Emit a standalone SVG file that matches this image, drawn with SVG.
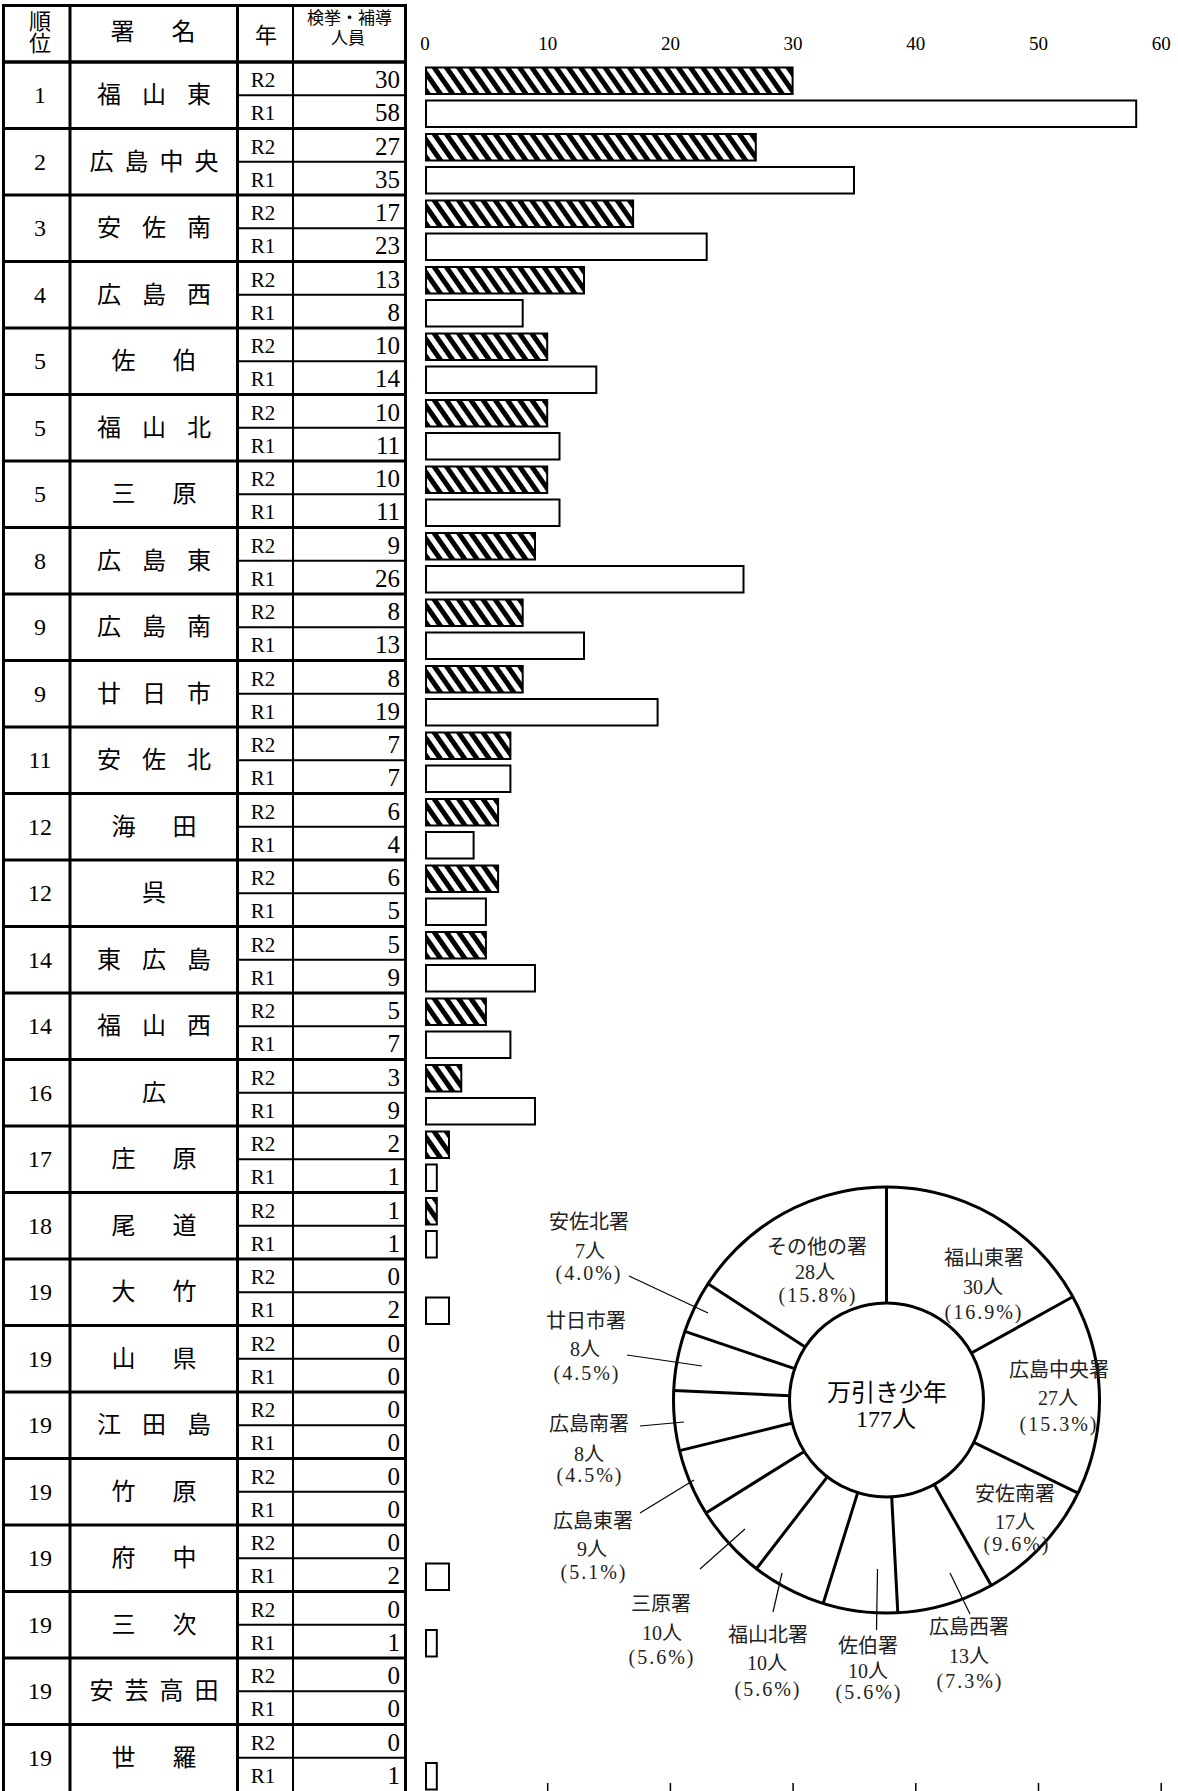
<svg xmlns="http://www.w3.org/2000/svg" width="1178" height="1791" viewBox="0 0 1178 1791">
<defs>
<pattern id="hatch" patternUnits="userSpaceOnUse" width="10" height="10" patternTransform="rotate(-35)">
<rect width="10" height="10" fill="#fff"/><rect width="5" height="10" fill="#000"/>
</pattern>
<style>
.t{font-family:"Liberation Serif","Noto Sans CJK JP",serif;fill:#000}
.rk{font-size:24px;text-anchor:middle}
.nm{font-size:24px;text-anchor:middle}
.yr{font-size:21px;text-anchor:middle}
.ct{font-size:25px;text-anchor:end}
.hd{font-size:22px;text-anchor:middle}
.hs{font-size:17px;text-anchor:middle}
.ax{font-size:19px;text-anchor:middle}
.pl{font-size:20px;text-anchor:middle;fill:#222}
.pc{letter-spacing:2px}
.ctr{font-size:24px;text-anchor:middle}
.tl{stroke:#000;stroke-width:3}
.ts{stroke:#000;stroke-width:2}
.bh{fill:url(#hatch);stroke:#000;stroke-width:2}
.bw{fill:#fff;stroke:#000;stroke-width:2}
.dv{stroke:#000;stroke-width:3}
.ld{stroke:#000;stroke-width:1.2;fill:none}
.tk{stroke:#000;stroke-width:1.5}
</style>
</defs>
<rect width="1178" height="1791" fill="#fff"/>

<g id="table-frame">
<line class="tl" x1="2" y1="5.5" x2="407" y2="5.5"/>
<line class="tl" x1="3.5" y1="4" x2="3.5" y2="1791"/>
<line class="tl" x1="70" y1="4" x2="70" y2="1791"/>
<line class="tl" x1="237.5" y1="4" x2="237.5" y2="1791"/>
<line class="ts" x1="293" y1="4" x2="293" y2="1791"/>
<line class="tl" x1="405.5" y1="4" x2="405.5" y2="1791"/>
<line class="tl" x1="2" y1="62" x2="407" y2="62" style="stroke-width:3.5"/>
</g>

<g id="header">
<text class="t hd" x="40" y="29">順</text>
<text class="t hd" x="40" y="51">位</text>
<text class="t nm" x="122.5 183.5" y="40">署名</text>
<text class="t hd" x="266" y="43">年</text>
<text class="t hs" x="349.5" y="24">検挙・補導</text>
<text class="t hs" x="348" y="44">人員</text>
</g>

<g id="axis">
<text class="t ax" x="425" y="50">0</text>
<text class="t ax" x="547.7" y="50">10</text>
<text class="t ax" x="670.4" y="50">20</text>
<text class="t ax" x="793.1" y="50">30</text>
<text class="t ax" x="915.8" y="50">40</text>
<text class="t ax" x="1038.5" y="50">50</text>
<text class="t ax" x="1161.2" y="50">60</text>
<line class="tk" x1="547.7" y1="1783" x2="547.7" y2="1791"/>
<line class="tk" x1="670.4" y1="1783" x2="670.4" y2="1791"/>
<line class="tk" x1="793.1" y1="1783" x2="793.1" y2="1791"/>
<line class="tk" x1="915.8" y1="1783" x2="915.8" y2="1791"/>
<line class="tk" x1="1038.5" y1="1783" x2="1038.5" y2="1791"/>
<line class="tk" x1="1161.2" y1="1783" x2="1161.2" y2="1791"/>
</g>

<g id="r01" transform="translate(0,62)">
<text class="t rk" x="40" y="41">1</text><text class="t nm" x="109 154 199" y="41">福山東</text>
<text class="t yr" x="263" y="25">R2</text><text class="t yr" x="263" y="58">R1</text>
<text class="t ct" x="400" y="26">30</text><text class="t ct" x="400" y="59">58</text>
<line class="ts" x1="237.5" y1="33.25" x2="405.5" y2="33.25"/><line class="tl" x1="2" y1="66.5" x2="407" y2="66.5"/>
<rect class="bh" x="426" y="5.5" width="366.6" height="26.5"/><rect class="bw" x="426" y="38.5" width="710.2" height="26.5"/>
</g>
<g id="r02" transform="translate(0,128.5)">
<text class="t rk" x="40" y="41">2</text><text class="t nm" x="101.5 136.5 171.5 206.5" y="41">広島中央</text>
<text class="t yr" x="263" y="25">R2</text><text class="t yr" x="263" y="58">R1</text>
<text class="t ct" x="400" y="26">27</text><text class="t ct" x="400" y="59">35</text>
<line class="ts" x1="237.5" y1="33.25" x2="405.5" y2="33.25"/><line class="tl" x1="2" y1="66.5" x2="407" y2="66.5"/>
<rect class="bh" x="426" y="5.5" width="329.8" height="26.5"/><rect class="bw" x="426" y="38.5" width="428" height="26.5"/>
</g>
<g id="r03" transform="translate(0,195)">
<text class="t rk" x="40" y="41">3</text><text class="t nm" x="109 154 199" y="41">安佐南</text>
<text class="t yr" x="263" y="25">R2</text><text class="t yr" x="263" y="58">R1</text>
<text class="t ct" x="400" y="26">17</text><text class="t ct" x="400" y="59">23</text>
<line class="ts" x1="237.5" y1="33.25" x2="405.5" y2="33.25"/><line class="tl" x1="2" y1="66.5" x2="407" y2="66.5"/>
<rect class="bh" x="426" y="5.5" width="207.1" height="26.5"/><rect class="bw" x="426" y="38.5" width="280.7" height="26.5"/>
</g>
<g id="r04" transform="translate(0,261.5)">
<text class="t rk" x="40" y="41">4</text><text class="t nm" x="109 154 199" y="41">広島西</text>
<text class="t yr" x="263" y="25">R2</text><text class="t yr" x="263" y="58">R1</text>
<text class="t ct" x="400" y="26">13</text><text class="t ct" x="400" y="59">8</text>
<line class="ts" x1="237.5" y1="33.25" x2="405.5" y2="33.25"/><line class="tl" x1="2" y1="66.5" x2="407" y2="66.5"/>
<rect class="bh" x="426" y="5.5" width="158" height="26.5"/><rect class="bw" x="426" y="38.5" width="96.7" height="26.5"/>
</g>
<g id="r05" transform="translate(0,328)">
<text class="t rk" x="40" y="41">5</text><text class="t nm" x="123.5 184.5" y="41">佐伯</text>
<text class="t yr" x="263" y="25">R2</text><text class="t yr" x="263" y="58">R1</text>
<text class="t ct" x="400" y="26">10</text><text class="t ct" x="400" y="59">14</text>
<line class="ts" x1="237.5" y1="33.25" x2="405.5" y2="33.25"/><line class="tl" x1="2" y1="66.5" x2="407" y2="66.5"/>
<rect class="bh" x="426" y="5.5" width="121.2" height="26.5"/><rect class="bw" x="426" y="38.5" width="170.3" height="26.5"/>
</g>
<g id="r06" transform="translate(0,394.5)">
<text class="t rk" x="40" y="41">5</text><text class="t nm" x="109 154 199" y="41">福山北</text>
<text class="t yr" x="263" y="25">R2</text><text class="t yr" x="263" y="58">R1</text>
<text class="t ct" x="400" y="26">10</text><text class="t ct" x="400" y="59">11</text>
<line class="ts" x1="237.5" y1="33.25" x2="405.5" y2="33.25"/><line class="tl" x1="2" y1="66.5" x2="407" y2="66.5"/>
<rect class="bh" x="426" y="5.5" width="121.2" height="26.5"/><rect class="bw" x="426" y="38.5" width="133.5" height="26.5"/>
</g>
<g id="r07" transform="translate(0,461)">
<text class="t rk" x="40" y="41">5</text><text class="t nm" x="123.5 184.5" y="41">三原</text>
<text class="t yr" x="263" y="25">R2</text><text class="t yr" x="263" y="58">R1</text>
<text class="t ct" x="400" y="26">10</text><text class="t ct" x="400" y="59">11</text>
<line class="ts" x1="237.5" y1="33.25" x2="405.5" y2="33.25"/><line class="tl" x1="2" y1="66.5" x2="407" y2="66.5"/>
<rect class="bh" x="426" y="5.5" width="121.2" height="26.5"/><rect class="bw" x="426" y="38.5" width="133.5" height="26.5"/>
</g>
<g id="r08" transform="translate(0,527.5)">
<text class="t rk" x="40" y="41">8</text><text class="t nm" x="109 154 199" y="41">広島東</text>
<text class="t yr" x="263" y="25">R2</text><text class="t yr" x="263" y="58">R1</text>
<text class="t ct" x="400" y="26">9</text><text class="t ct" x="400" y="59">26</text>
<line class="ts" x1="237.5" y1="33.25" x2="405.5" y2="33.25"/><line class="tl" x1="2" y1="66.5" x2="407" y2="66.5"/>
<rect class="bh" x="426" y="5.5" width="109" height="26.5"/><rect class="bw" x="426" y="38.5" width="317.5" height="26.5"/>
</g>
<g id="r09" transform="translate(0,594)">
<text class="t rk" x="40" y="41">9</text><text class="t nm" x="109 154 199" y="41">広島南</text>
<text class="t yr" x="263" y="25">R2</text><text class="t yr" x="263" y="58">R1</text>
<text class="t ct" x="400" y="26">8</text><text class="t ct" x="400" y="59">13</text>
<line class="ts" x1="237.5" y1="33.25" x2="405.5" y2="33.25"/><line class="tl" x1="2" y1="66.5" x2="407" y2="66.5"/>
<rect class="bh" x="426" y="5.5" width="96.7" height="26.5"/><rect class="bw" x="426" y="38.5" width="158" height="26.5"/>
</g>
<g id="r10" transform="translate(0,660.5)">
<text class="t rk" x="40" y="41">9</text><text class="t nm" x="109 154 199" y="41">廿日市</text>
<text class="t yr" x="263" y="25">R2</text><text class="t yr" x="263" y="58">R1</text>
<text class="t ct" x="400" y="26">8</text><text class="t ct" x="400" y="59">19</text>
<line class="ts" x1="237.5" y1="33.25" x2="405.5" y2="33.25"/><line class="tl" x1="2" y1="66.5" x2="407" y2="66.5"/>
<rect class="bh" x="426" y="5.5" width="96.7" height="26.5"/><rect class="bw" x="426" y="38.5" width="231.6" height="26.5"/>
</g>
<g id="r11" transform="translate(0,727)">
<text class="t rk" x="40" y="41">11</text><text class="t nm" x="109 154 199" y="41">安佐北</text>
<text class="t yr" x="263" y="25">R2</text><text class="t yr" x="263" y="58">R1</text>
<text class="t ct" x="400" y="26">7</text><text class="t ct" x="400" y="59">7</text>
<line class="ts" x1="237.5" y1="33.25" x2="405.5" y2="33.25"/><line class="tl" x1="2" y1="66.5" x2="407" y2="66.5"/>
<rect class="bh" x="426" y="5.5" width="84.4" height="26.5"/><rect class="bw" x="426" y="38.5" width="84.4" height="26.5"/>
</g>
<g id="r12" transform="translate(0,793.5)">
<text class="t rk" x="40" y="41">12</text><text class="t nm" x="123.5 184.5" y="41">海田</text>
<text class="t yr" x="263" y="25">R2</text><text class="t yr" x="263" y="58">R1</text>
<text class="t ct" x="400" y="26">6</text><text class="t ct" x="400" y="59">4</text>
<line class="ts" x1="237.5" y1="33.25" x2="405.5" y2="33.25"/><line class="tl" x1="2" y1="66.5" x2="407" y2="66.5"/>
<rect class="bh" x="426" y="5.5" width="72.1" height="26.5"/><rect class="bw" x="426" y="38.5" width="47.6" height="26.5"/>
</g>
<g id="r13" transform="translate(0,860)">
<text class="t rk" x="40" y="41">12</text><text class="t nm" x="154" y="41">呉</text>
<text class="t yr" x="263" y="25">R2</text><text class="t yr" x="263" y="58">R1</text>
<text class="t ct" x="400" y="26">6</text><text class="t ct" x="400" y="59">5</text>
<line class="ts" x1="237.5" y1="33.25" x2="405.5" y2="33.25"/><line class="tl" x1="2" y1="66.5" x2="407" y2="66.5"/>
<rect class="bh" x="426" y="5.5" width="72.1" height="26.5"/><rect class="bw" x="426" y="38.5" width="59.9" height="26.5"/>
</g>
<g id="r14" transform="translate(0,926.5)">
<text class="t rk" x="40" y="41">14</text><text class="t nm" x="109 154 199" y="41">東広島</text>
<text class="t yr" x="263" y="25">R2</text><text class="t yr" x="263" y="58">R1</text>
<text class="t ct" x="400" y="26">5</text><text class="t ct" x="400" y="59">9</text>
<line class="ts" x1="237.5" y1="33.25" x2="405.5" y2="33.25"/><line class="tl" x1="2" y1="66.5" x2="407" y2="66.5"/>
<rect class="bh" x="426" y="5.5" width="59.9" height="26.5"/><rect class="bw" x="426" y="38.5" width="109" height="26.5"/>
</g>
<g id="r15" transform="translate(0,993)">
<text class="t rk" x="40" y="41">14</text><text class="t nm" x="109 154 199" y="41">福山西</text>
<text class="t yr" x="263" y="25">R2</text><text class="t yr" x="263" y="58">R1</text>
<text class="t ct" x="400" y="26">5</text><text class="t ct" x="400" y="59">7</text>
<line class="ts" x1="237.5" y1="33.25" x2="405.5" y2="33.25"/><line class="tl" x1="2" y1="66.5" x2="407" y2="66.5"/>
<rect class="bh" x="426" y="5.5" width="59.9" height="26.5"/><rect class="bw" x="426" y="38.5" width="84.4" height="26.5"/>
</g>
<g id="r16" transform="translate(0,1059.5)">
<text class="t rk" x="40" y="41">16</text><text class="t nm" x="154" y="41">広</text>
<text class="t yr" x="263" y="25">R2</text><text class="t yr" x="263" y="58">R1</text>
<text class="t ct" x="400" y="26">3</text><text class="t ct" x="400" y="59">9</text>
<line class="ts" x1="237.5" y1="33.25" x2="405.5" y2="33.25"/><line class="tl" x1="2" y1="66.5" x2="407" y2="66.5"/>
<rect class="bh" x="426" y="5.5" width="35.3" height="26.5"/><rect class="bw" x="426" y="38.5" width="109" height="26.5"/>
</g>
<g id="r17" transform="translate(0,1126)">
<text class="t rk" x="40" y="41">17</text><text class="t nm" x="123.5 184.5" y="41">庄原</text>
<text class="t yr" x="263" y="25">R2</text><text class="t yr" x="263" y="58">R1</text>
<text class="t ct" x="400" y="26">2</text><text class="t ct" x="400" y="59">1</text>
<line class="ts" x1="237.5" y1="33.25" x2="405.5" y2="33.25"/><line class="tl" x1="2" y1="66.5" x2="407" y2="66.5"/>
<rect class="bh" x="426" y="5.5" width="23" height="26.5"/><rect class="bw" x="426" y="38.5" width="10.8" height="26.5"/>
</g>
<g id="r18" transform="translate(0,1192.5)">
<text class="t rk" x="40" y="41">18</text><text class="t nm" x="123.5 184.5" y="41">尾道</text>
<text class="t yr" x="263" y="25">R2</text><text class="t yr" x="263" y="58">R1</text>
<text class="t ct" x="400" y="26">1</text><text class="t ct" x="400" y="59">1</text>
<line class="ts" x1="237.5" y1="33.25" x2="405.5" y2="33.25"/><line class="tl" x1="2" y1="66.5" x2="407" y2="66.5"/>
<rect class="bh" x="426" y="5.5" width="10.8" height="26.5"/><rect class="bw" x="426" y="38.5" width="10.8" height="26.5"/>
</g>
<g id="r19" transform="translate(0,1259)">
<text class="t rk" x="40" y="41">19</text><text class="t nm" x="123.5 184.5" y="41">大竹</text>
<text class="t yr" x="263" y="25">R2</text><text class="t yr" x="263" y="58">R1</text>
<text class="t ct" x="400" y="26">0</text><text class="t ct" x="400" y="59">2</text>
<line class="ts" x1="237.5" y1="33.25" x2="405.5" y2="33.25"/><line class="tl" x1="2" y1="66.5" x2="407" y2="66.5"/>
<rect class="bw" x="426" y="38.5" width="23" height="26.5"/>
</g>
<g id="r20" transform="translate(0,1325.5)">
<text class="t rk" x="40" y="41">19</text><text class="t nm" x="123.5 184.5" y="41">山県</text>
<text class="t yr" x="263" y="25">R2</text><text class="t yr" x="263" y="58">R1</text>
<text class="t ct" x="400" y="26">0</text><text class="t ct" x="400" y="59">0</text>
<line class="ts" x1="237.5" y1="33.25" x2="405.5" y2="33.25"/><line class="tl" x1="2" y1="66.5" x2="407" y2="66.5"/>
</g>
<g id="r21" transform="translate(0,1392)">
<text class="t rk" x="40" y="41">19</text><text class="t nm" x="109 154 199" y="41">江田島</text>
<text class="t yr" x="263" y="25">R2</text><text class="t yr" x="263" y="58">R1</text>
<text class="t ct" x="400" y="26">0</text><text class="t ct" x="400" y="59">0</text>
<line class="ts" x1="237.5" y1="33.25" x2="405.5" y2="33.25"/><line class="tl" x1="2" y1="66.5" x2="407" y2="66.5"/>
</g>
<g id="r22" transform="translate(0,1458.5)">
<text class="t rk" x="40" y="41">19</text><text class="t nm" x="123.5 184.5" y="41">竹原</text>
<text class="t yr" x="263" y="25">R2</text><text class="t yr" x="263" y="58">R1</text>
<text class="t ct" x="400" y="26">0</text><text class="t ct" x="400" y="59">0</text>
<line class="ts" x1="237.5" y1="33.25" x2="405.5" y2="33.25"/><line class="tl" x1="2" y1="66.5" x2="407" y2="66.5"/>
</g>
<g id="r23" transform="translate(0,1525)">
<text class="t rk" x="40" y="41">19</text><text class="t nm" x="123.5 184.5" y="41">府中</text>
<text class="t yr" x="263" y="25">R2</text><text class="t yr" x="263" y="58">R1</text>
<text class="t ct" x="400" y="26">0</text><text class="t ct" x="400" y="59">2</text>
<line class="ts" x1="237.5" y1="33.25" x2="405.5" y2="33.25"/><line class="tl" x1="2" y1="66.5" x2="407" y2="66.5"/>
<rect class="bw" x="426" y="38.5" width="23" height="26.5"/>
</g>
<g id="r24" transform="translate(0,1591.5)">
<text class="t rk" x="40" y="41">19</text><text class="t nm" x="123.5 184.5" y="41">三次</text>
<text class="t yr" x="263" y="25">R2</text><text class="t yr" x="263" y="58">R1</text>
<text class="t ct" x="400" y="26">0</text><text class="t ct" x="400" y="59">1</text>
<line class="ts" x1="237.5" y1="33.25" x2="405.5" y2="33.25"/><line class="tl" x1="2" y1="66.5" x2="407" y2="66.5"/>
<rect class="bw" x="426" y="38.5" width="10.8" height="26.5"/>
</g>
<g id="r25" transform="translate(0,1658)">
<text class="t rk" x="40" y="41">19</text><text class="t nm" x="101.5 136.5 171.5 206.5" y="41">安芸高田</text>
<text class="t yr" x="263" y="25">R2</text><text class="t yr" x="263" y="58">R1</text>
<text class="t ct" x="400" y="26">0</text><text class="t ct" x="400" y="59">0</text>
<line class="ts" x1="237.5" y1="33.25" x2="405.5" y2="33.25"/><line class="tl" x1="2" y1="66.5" x2="407" y2="66.5"/>
</g>
<g id="r26" transform="translate(0,1724.5)">
<text class="t rk" x="40" y="41">19</text><text class="t nm" x="123.5 184.5" y="41">世羅</text>
<text class="t yr" x="263" y="25">R2</text><text class="t yr" x="263" y="58">R1</text>
<text class="t ct" x="400" y="26">0</text><text class="t ct" x="400" y="59">1</text>
<line class="ts" x1="237.5" y1="33.25" x2="405.5" y2="33.25"/>
<rect class="bw" x="426" y="38.5" width="10.8" height="26.5"/>
</g>

<g id="donut">
<circle cx="886.5" cy="1400" r="213" fill="#fff" stroke="#000" stroke-width="3"/>
<circle cx="886.5" cy="1400" r="97" fill="#fff" stroke="#000" stroke-width="3"/>
<line class="dv" x1="886.5" y1="1303" x2="886.5" y2="1187"/>
<line class="dv" x1="971.4" y1="1353" x2="1072.8" y2="1296.8"/>
<line class="dv" x1="973.8" y1="1442.4" x2="1078.1" y2="1493.1"/>
<line class="dv" x1="934.2" y1="1484.4" x2="991.3" y2="1585.4"/>
<line class="dv" x1="891.7" y1="1496.9" x2="897.8" y2="1612.7"/>
<line class="dv" x1="857.7" y1="1492.6" x2="823.2" y2="1603.4"/>
<line class="dv" x1="827.3" y1="1476.8" x2="756.5" y2="1568.7"/>
<line class="dv" x1="804.3" y1="1451.4" x2="705.9" y2="1513"/>
<line class="dv" x1="792.3" y1="1423" x2="679.6" y2="1450.6"/>
<line class="dv" x1="789.6" y1="1395.7" x2="673.7" y2="1390.6"/>
<line class="dv" x1="794.7" y1="1368.7" x2="684.9" y2="1331.3"/>
<line class="dv" x1="805.2" y1="1347.1" x2="708" y2="1283.8"/>
</g>

<g id="connectors">
<line class="ld" x1="629" y1="1276" x2="708" y2="1313"/>
<line class="ld" x1="627" y1="1355" x2="702" y2="1366"/>
<line class="ld" x1="640" y1="1426" x2="684" y2="1422"/>
<line class="ld" x1="640" y1="1513" x2="694" y2="1480"/>
<line class="ld" x1="700" y1="1569" x2="745" y2="1529"/>
<line class="ld" x1="773" y1="1612" x2="782" y2="1573"/>
<line class="ld" x1="876.5" y1="1630" x2="877.5" y2="1569"/>
<line class="ld" x1="970" y1="1614" x2="950" y2="1573"/>
</g>

<g id="center-label">
<text class="t ctr" x="887" y="1401">万引き少年</text>
<text class="t ctr" x="886" y="1427">177人</text>
</g>
<g id="lbl-sonota"><text class="t pl" x="817" y="1254">その他の署</text><text class="t pl" x="815" y="1279">28人</text><text class="t pl pc" x="818" y="1302">(15.8%)</text></g>
<g id="lbl-fukuyamahigashi"><text class="t pl" x="984" y="1265">福山東署</text><text class="t pl" x="983" y="1294">30人</text><text class="t pl pc" x="984" y="1319">(16.9%)</text></g>
<g id="lbl-hiroshimachuo"><text class="t pl" x="1059" y="1377">広島中央署</text><text class="t pl" x="1058" y="1405">27人</text><text class="t pl pc" x="1059" y="1431">(15.3%)</text></g>
<g id="lbl-asaminami"><text class="t pl" x="1015" y="1501">安佐南署</text><text class="t pl" x="1015" y="1529">17人</text><text class="t pl pc" x="1017" y="1551">(9.6%)</text></g>
<g id="lbl-hiroshimanishi"><text class="t pl" x="969" y="1634">広島西署</text><text class="t pl" x="969" y="1663">13人</text><text class="t pl pc" x="970" y="1688">(7.3%)</text></g>
<g id="lbl-saeki"><text class="t pl" x="868" y="1653">佐伯署</text><text class="t pl" x="868" y="1678">10人</text><text class="t pl pc" x="869" y="1699">(5.6%)</text></g>
<g id="lbl-fukuyamakita"><text class="t pl" x="768" y="1642">福山北署</text><text class="t pl" x="767" y="1670">10人</text><text class="t pl pc" x="768" y="1696">(5.6%)</text></g>
<g id="lbl-mihara"><text class="t pl" x="661" y="1611">三原署</text><text class="t pl" x="662" y="1640">10人</text><text class="t pl pc" x="662" y="1664">(5.6%)</text></g>
<g id="lbl-hiroshimahigashi"><text class="t pl" x="593" y="1528">広島東署</text><text class="t pl" x="592" y="1556">9人</text><text class="t pl pc" x="594" y="1579">(5.1%)</text></g>
<g id="lbl-hiroshimaminami"><text class="t pl" x="589" y="1431">広島南署</text><text class="t pl" x="589" y="1461">8人</text><text class="t pl pc" x="590" y="1482">(4.5%)</text></g>
<g id="lbl-hatsukaichi"><text class="t pl" x="586" y="1328">廿日市署</text><text class="t pl" x="585" y="1356">8人</text><text class="t pl pc" x="587" y="1380">(4.5%)</text></g>
<g id="lbl-asakita"><text class="t pl" x="589" y="1229">安佐北署</text><text class="t pl" x="590" y="1258">7人</text><text class="t pl pc" x="589" y="1280">(4.0%)</text></g>
</svg>
